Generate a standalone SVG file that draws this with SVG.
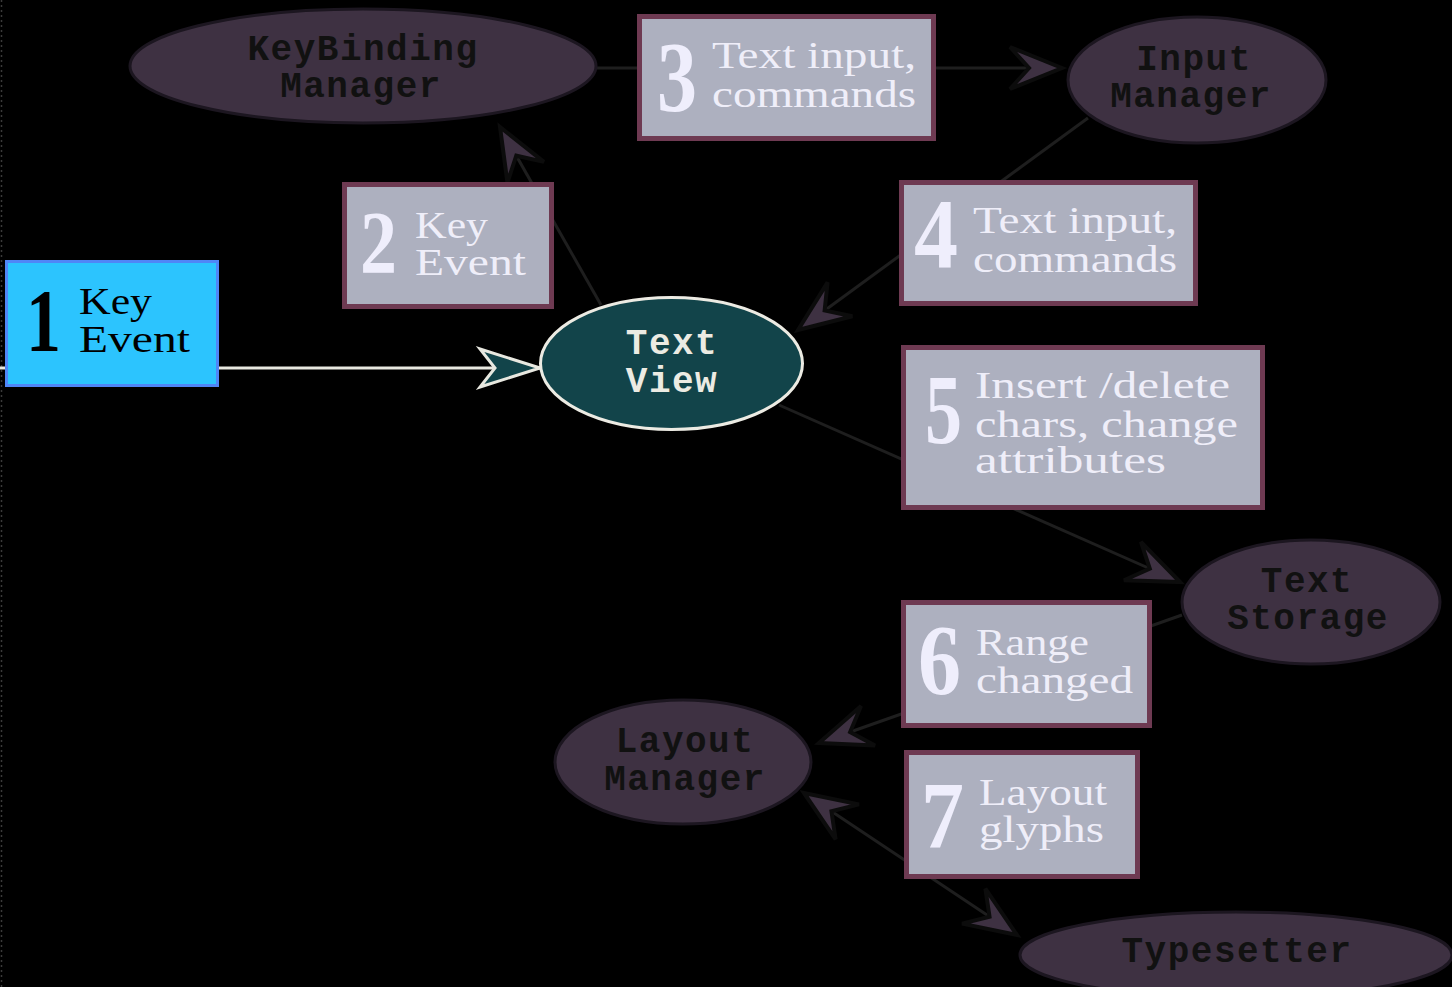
<svg xmlns="http://www.w3.org/2000/svg" width="1452" height="987" viewBox="0 0 1452 987">
<style>
.ell{fill:#3e3142;stroke:#1c1620;stroke-width:3}
.box{fill:#adb0bf;stroke:#6e3a52;stroke-width:5}
.lbl{font-family:"Liberation Mono","DejaVu Sans Mono",monospace;font-weight:bold;font-size:36px;letter-spacing:1.5px;fill:#111;text-anchor:middle}
.txt{font-family:"Liberation Serif","DejaVu Serif",serif;font-size:38px;fill:#efeef9}
.num{font-family:"Liberation Serif","DejaVu Serif",serif;font-weight:bold;fill:#efeefc}
.con{stroke:#1e1e1e;stroke-width:3;fill:none}
</style>
<defs>
<marker id="arr" markerUnits="userSpaceOnUse" viewBox="-60 -30 70 60" refX="0" refY="0" markerWidth="70" markerHeight="60" orient="auto-start-reverse" overflow="visible">
<path d="M0,0 L-52,-21 L-33,0 L-52,21 Z" fill="#3e3142" stroke="#0c0c0c" stroke-width="4" stroke-linejoin="miter"/>
</marker>
<marker id="warr" markerUnits="userSpaceOnUse" viewBox="-70 -30 80 60" refX="0" refY="0" markerWidth="80" markerHeight="60" orient="auto" overflow="visible">
<path d="M0,0 L-60,-19 L-45,0 L-60,19 Z" fill="#12444a" stroke="#e8e8e0" stroke-width="3" stroke-linejoin="miter"/>
</marker>
</defs>
<rect x="0" y="0" width="1452" height="987" fill="#000"/>
<line x1="1.5" y1="0" x2="1.5" y2="987" stroke="#3a3a3a" stroke-width="1.5" stroke-dasharray="2 3"/>

<g id="connectors">
<line class="con" x1="0" y1="368" x2="540" y2="368" style="stroke:#e8e8e0" marker-end="url(#warr)"/>
<line class="con" x1="601" y1="305" x2="500" y2="127" marker-end="url(#arr)"/>
<line class="con" x1="596" y1="68" x2="1062" y2="68" marker-end="url(#arr)"/>
<line class="con" x1="1088" y1="118" x2="798" y2="330" marker-end="url(#arr)"/>
<line class="con" x1="779" y1="405" x2="1180" y2="582" marker-end="url(#arr)"/>
<line class="con" x1="1182" y1="615" x2="819" y2="743" marker-end="url(#arr)"/>
<line class="con" x1="804" y1="793" x2="1017" y2="935" marker-start="url(#arr)" marker-end="url(#arr)"/>
</g>

<g id="keybinding-manager">
<ellipse class="ell" cx="363" cy="66" rx="233" ry="57"/>
<text class="lbl" x="363" y="60">KeyBinding</text>
<text class="lbl" x="361" y="97">Manager</text>
</g>

<g id="input-manager">
<ellipse class="ell" cx="1197" cy="80" rx="129" ry="63"/>
<text class="lbl" x="1194" y="70">Input</text>
<text class="lbl" x="1191" y="107">Manager</text>
</g>

<g id="text-view">
<ellipse cx="671.5" cy="363.5" rx="131" ry="66" fill="#12444a" stroke="#ecebe3" stroke-width="3"/>
<text class="lbl" x="672" y="354" style="fill:#ecebe3">Text</text>
<text class="lbl" x="672" y="392" style="fill:#ecebe3">View</text>
</g>

<g id="text-storage">
<ellipse class="ell" cx="1311" cy="602" rx="129" ry="62"/>
<text class="lbl" x="1307" y="592">Text</text>
<text class="lbl" x="1308" y="629">Storage</text>
</g>

<g id="layout-manager">
<ellipse class="ell" cx="683" cy="762" rx="128" ry="62"/>
<text class="lbl" x="685" y="752">Layout</text>
<text class="lbl" x="685" y="790">Manager</text>
</g>

<g id="typesetter">
<ellipse class="ell" cx="1236" cy="955" rx="216" ry="43"/>
<text class="lbl" x="1237" y="962">Typesetter</text>
</g>

<g id="step1">
<rect x="6.5" y="261.5" width="211" height="124" fill="#2cc4fe" stroke="#4f86f7" stroke-width="3"/>
<text class="num" x="26" y="350" font-size="89" textLength="35" lengthAdjust="spacingAndGlyphs" style="fill:#000">1</text>
<text class="txt" x="79" y="314" textLength="73" lengthAdjust="spacingAndGlyphs" style="fill:#000">Key</text>
<text class="txt" x="79" y="352" textLength="111" lengthAdjust="spacingAndGlyphs" style="fill:#000">Event</text>
</g>

<g id="step2">
<rect class="box" x="344.5" y="184.5" width="207" height="122"/>
<text class="num" x="360" y="272" font-size="88" textLength="37" lengthAdjust="spacingAndGlyphs">2</text>
<text class="txt" x="415" y="238" textLength="73" lengthAdjust="spacingAndGlyphs">Key</text>
<text class="txt" x="415" y="275" textLength="111" lengthAdjust="spacingAndGlyphs">Event</text>
</g>

<g id="step3">
<rect class="box" x="639.5" y="16.5" width="294" height="122"/>
<text class="num" x="657" y="110" font-size="100" textLength="40" lengthAdjust="spacingAndGlyphs">3</text>
<text class="txt" x="712" y="68" textLength="204" lengthAdjust="spacingAndGlyphs">Text input,</text>
<text class="txt" x="712" y="107" textLength="204" lengthAdjust="spacingAndGlyphs">commands</text>
</g>

<g id="step4">
<rect class="box" x="901.5" y="182.5" width="294" height="121"/>
<text class="num" x="914" y="267" font-size="100" textLength="44" lengthAdjust="spacingAndGlyphs">4</text>
<text class="txt" x="973" y="233" textLength="204" lengthAdjust="spacingAndGlyphs">Text input,</text>
<text class="txt" x="973" y="272" textLength="204" lengthAdjust="spacingAndGlyphs">commands</text>
</g>

<g id="step5">
<rect class="box" x="903.5" y="347.5" width="359" height="160"/>
<text class="num" x="925" y="443" font-size="100" textLength="37" lengthAdjust="spacingAndGlyphs">5</text>
<text class="txt" x="975" y="398" textLength="255" lengthAdjust="spacingAndGlyphs">Insert /delete</text>
<text class="txt" x="975" y="437" textLength="263" lengthAdjust="spacingAndGlyphs">chars, change</text>
<text class="txt" x="975" y="473" textLength="191" lengthAdjust="spacingAndGlyphs">attributes</text>
</g>

<g id="step6">
<rect class="box" x="903.5" y="602.5" width="246" height="123"/>
<text class="num" x="918" y="693" font-size="100" textLength="43" lengthAdjust="spacingAndGlyphs">6</text>
<text class="txt" x="976" y="655" textLength="113" lengthAdjust="spacingAndGlyphs">Range</text>
<text class="txt" x="976" y="693" textLength="157" lengthAdjust="spacingAndGlyphs">changed</text>
</g>

<g id="step7">
<rect class="box" x="906.5" y="752.5" width="231" height="124"/>
<text class="num" x="921" y="848" font-size="96" textLength="43" lengthAdjust="spacingAndGlyphs">7</text>
<text class="txt" x="979" y="805" textLength="128" lengthAdjust="spacingAndGlyphs">Layout</text>
<text class="txt" x="979" y="842" textLength="125" lengthAdjust="spacingAndGlyphs">glyphs</text>
</g>
</svg>
